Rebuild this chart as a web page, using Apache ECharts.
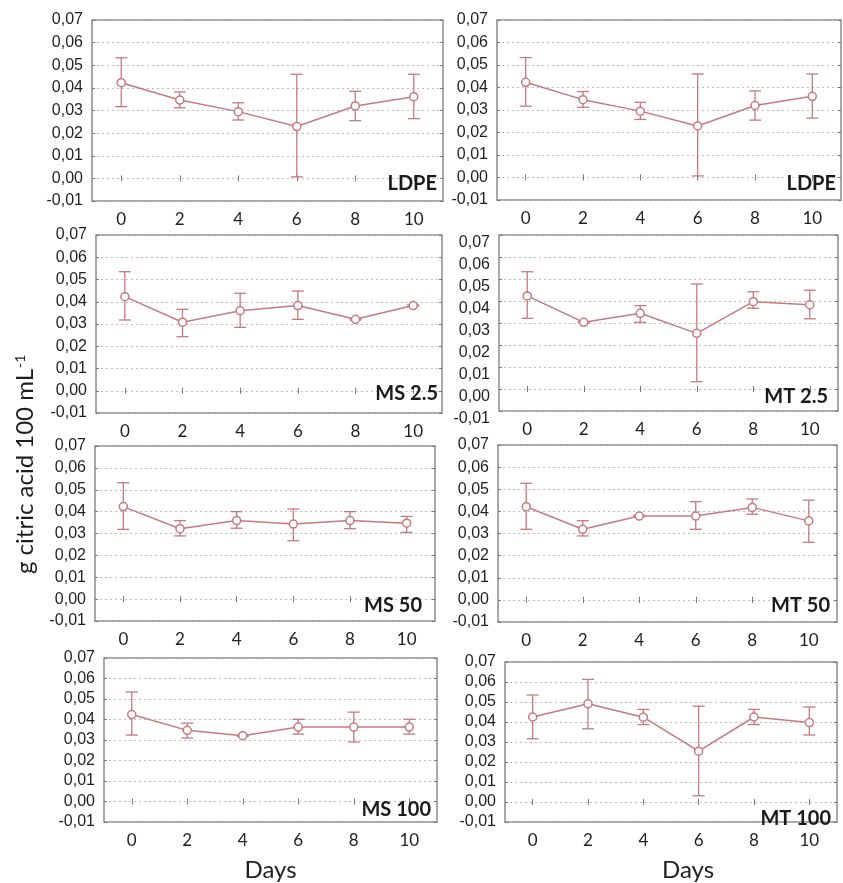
<!DOCTYPE html>
<html>
<head>
<meta charset="utf-8">
<script src="https://cdn.jsdelivr.net/npm/echarts@6/dist/echarts.min.js"></script>
<style>
html,body{margin:0;padding:0;background:#fff;}
#chart{width:843px;height:883px;}
</style>
</head>
<body>
<div id="chart"></div>
<script>
// ---- data ----
const days = ['0', '2', '4', '6', '8', '10'];
const yTicks = [-0.01, 0.00, 0.01, 0.02, 0.03, 0.04, 0.05, 0.06, 0.07];

const ldpeMean  = [0.0423, 0.0346, 0.0295, 0.0229, 0.0320, 0.0361];
const ldpeUpper = [0.0533, 0.0382, 0.0334, 0.0460, 0.0385, 0.0460];
const ldpeLower = [0.0317, 0.0312, 0.0258, 0.0007, 0.0255, 0.0264];

const ms25Mean  = [0.0423, 0.0308, 0.0360, 0.0383, 0.0321, 0.0383];
const ms25Upper = [0.0535, 0.0366, 0.0438, 0.0448, 0.0324, 0.0386];
const ms25Lower = [0.0318, 0.0243, 0.0285, 0.0321, 0.0318, 0.0380];

const mt25Mean  = [0.0423, 0.0303, 0.0344, 0.0253, 0.0397, 0.0383];
const mt25Upper = [0.0533, 0.0306, 0.0379, 0.0477, 0.0442, 0.0449];
const mt25Lower = [0.0321, 0.0300, 0.0303, 0.0033, 0.0367, 0.0319];

const ms50Mean  = [0.0423, 0.0322, 0.0359, 0.0343, 0.0359, 0.0347];
const ms50Upper = [0.0532, 0.0359, 0.0400, 0.0412, 0.0400, 0.0378];
const ms50Lower = [0.0319, 0.0289, 0.0324, 0.0267, 0.0322, 0.0305];

const mt50Mean  = [0.0421, 0.0319, 0.0379, 0.0379, 0.0418, 0.0357];
const mt50Upper = [0.0527, 0.0358, 0.0382, 0.0444, 0.0456, 0.0451];
const mt50Lower = [0.0319, 0.0289, 0.0376, 0.0319, 0.0387, 0.0260];

const ms100Mean  = [0.0424, 0.0347, 0.0321, 0.0363, 0.0363, 0.0363];
const ms100Upper = [0.0534, 0.0382, 0.0324, 0.0401, 0.0436, 0.0401];
const ms100Lower = [0.0324, 0.0310, 0.0318, 0.0329, 0.0290, 0.0329];

const mt100Mean  = [0.0425, 0.0491, 0.0424, 0.0254, 0.0425, 0.0397];
const mt100Upper = [0.0535, 0.0613, 0.0463, 0.0479, 0.0463, 0.0475];
const mt100Lower = [0.0316, 0.0366, 0.0387, 0.0031, 0.0387, 0.0335];

const panelNames = ['LDPE', 'LDPE', 'MS 2.5', 'MT 2.5', 'MS 50', 'MT 50', 'MS 100', 'MT 100'];
const panelMeans = [ldpeMean, ldpeMean, ms25Mean, mt25Mean, ms50Mean, mt50Mean, ms100Mean, mt100Mean];
const panelUppers = [ldpeUpper, ldpeUpper, ms25Upper, mt25Upper, ms50Upper, mt50Upper, ms100Upper, mt100Upper];
const panelLowers = [ldpeLower, ldpeLower, ms25Lower, mt25Lower, ms50Lower, mt50Lower, ms100Lower, mt100Lower];

const yTitle = 'g citric acid 100 mL';
const yTitleSup = '-1';
const xTitle = 'Days';

// ---- layout (pixels) ----
const boxes = [
  {l: 92,  t: 20,  r: 443, b: 201},
  {l: 497, t: 20,  r: 841, b: 200},
  {l: 96,  t: 235, r: 442, b: 413},
  {l: 499, t: 235, r: 838, b: 411},
  {l: 95,  t: 446, r: 435, b: 621},
  {l: 498, t: 445, r: 837, b: 622},
  {l: 104, t: 658, r: 437, b: 831},
  {l: 505, t: 662, r: 837, b: 833}
];
const labelPos = [
  {x: 437, y: 194}, {x: 836, y: 194},
  {x: 438, y: 404}, {x: 828, y: 407},
  {x: 422, y: 616}, {x: 830, y: 616},
  {x: 431, y: 820}, {x: 831, y: 829}
];

const LINE = '#c77a7d';
const FRAME = '#8c8c8c';
const TXT = '#1f1f1f';

const grids = [], xAxes = [], yAxes = [], series = [], graphics = [];

boxes.forEach((bx, i) => {
  grids.push({
    left: bx.l, top: bx.t, width: bx.r - bx.l, height: bx.b - bx.t,
    show: true, borderColor: FRAME, borderWidth: 1.5, backgroundColor: 'transparent'
  });
  const isBottom = i >= 6;
  xAxes.push({
    gridIndex: i, type: 'category', data: days, boundaryGap: true,
    axisLine: {show: false},
    axisTick: {show: true, alignWithLabel: true, inside: true, length: 3, lineStyle: {color: '#777'}},
    axisLabel: {fontFamily: 'Lato', fontSize: 17, color: TXT, margin: 10},
    splitLine: {show: false},
    name: isBottom ? xTitle : '',
    nameLocation: 'middle', nameGap: 36,
    nameTextStyle: {fontFamily: 'Lato', fontSize: 24, color: TXT, padding: i === 7 ? [0, 0, 0, 34] : 0}
  });
  xAxes.push({
    gridIndex: i, type: 'category', data: days, boundaryGap: true, position: 'top',
    axisLine: {show: false},
    axisTick: {show: true, alignWithLabel: true, inside: true, length: 3, lineStyle: {color: '#777'}},
    axisLabel: {show: false}, splitLine: {show: false}
  });
  yAxes.push({
    gridIndex: i, type: 'value', min: yTicks[0], max: yTicks[yTicks.length - 1], interval: 0.01,
    axisLine: {show: false},
    axisTick: {show: true, inside: true, length: 3, lineStyle: {color: '#777'}},
    axisLabel: {
      fontFamily: 'Liberation Sans', fontSize: 16, color: TXT, margin: 9,
      verticalAlign: i === 3 ? 'top' : 'middle',
      formatter: v => (Math.round(v * 100) / 100).toFixed(2).replace('.', ',')
    },
    splitLine: {show: true, lineStyle: {color: '#bdbdbd', width: 1, type: [2, 3]}}
  });
  yAxes.push({
    gridIndex: i, type: 'value', position: 'right', min: yTicks[0], max: yTicks[yTicks.length - 1], interval: 0.01,
    axisLine: {show: false},
    axisTick: {show: true, inside: true, length: 3, lineStyle: {color: '#777'}},
    axisLabel: {show: false}, splitLine: {show: false}
  });

  const means = panelMeans[i], ups = panelUppers[i], los = panelLowers[i];
  series.push({
    type: 'custom', xAxisIndex: 2 * i, yAxisIndex: 2 * i, z: 2, silent: true,
    data: days.map((d, k) => [k, ups[k], los[k]]),
    encode: {x: 0, y: [1, 2]},
    renderItem: (params, api) => {
      const x = api.value(0);
      const hi = api.coord([x, api.value(1)]);
      const lo = api.coord([x, api.value(2)]);
      const hw = 6;
      const st = {stroke: LINE, lineWidth: 1.3, fill: null};
      return {
        type: 'group',
        children: [
          {type: 'line', shape: {x1: hi[0], y1: hi[1], x2: lo[0], y2: lo[1]}, style: st},
          {type: 'line', shape: {x1: hi[0] - hw, y1: hi[1], x2: hi[0] + hw, y2: hi[1]}, style: st},
          {type: 'line', shape: {x1: lo[0] - hw, y1: lo[1], x2: lo[0] + hw, y2: lo[1]}, style: st}
        ]
      };
    }
  });
  series.push({
    type: 'line', xAxisIndex: 2 * i, yAxisIndex: 2 * i, z: 3, silent: true,
    data: means,
    symbol: 'circle', symbolSize: 8,
    lineStyle: {color: LINE, width: 1.5},
    itemStyle: {color: '#fff', borderColor: LINE, borderWidth: 1.5}
  });

  graphics.push({
    type: 'text', x: labelPos[i].x, y: labelPos[i].y, z: 10,
    style: {
      text: panelNames[i], font: 'bold 20px Lato', fill: '#1a1a1a',
      textAlign: 'right', textVerticalAlign: 'bottom'
    }
  });
});

graphics.push({
  type: 'text', x: 25, y: 574, rotation: Math.PI / 2, z: 10,
  style: {
    text: '{a|' + yTitle + '}{s|' + yTitleSup + '}',
    textAlign: 'left', textVerticalAlign: 'middle',
    rich: {
      a: {fontFamily: 'Lato', fontSize: 24, fill: TXT, color: TXT},
      s: {fontFamily: 'Lato', fontSize: 14, fill: TXT, color: TXT, verticalAlign: 'top', padding: [0, 0, 9, 1]}
    }
  }
});

const chart = echarts.init(document.getElementById('chart'), null, {renderer: 'canvas'});
chart.setOption({
  animation: false,
  backgroundColor: '#fff',
  grid: grids, xAxis: xAxes, yAxis: yAxes, series: series, graphic: graphics
});
</script>
</body>
</html>
